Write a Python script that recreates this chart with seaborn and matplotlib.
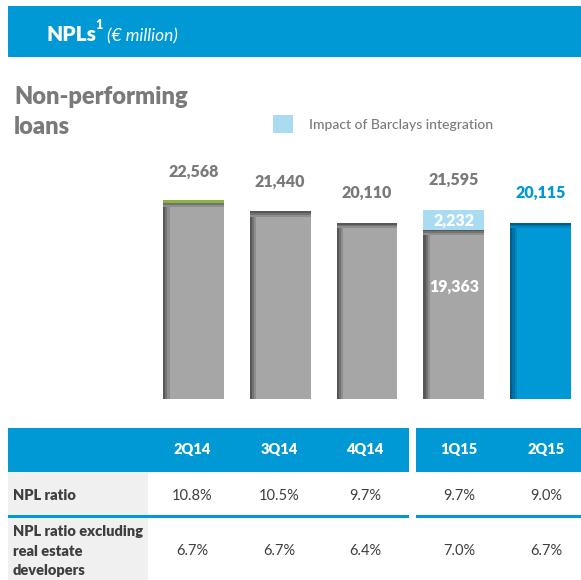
import matplotlib
matplotlib.use("Agg")
import matplotlib.pyplot as plt
from matplotlib.patches import Rectangle, Patch
import seaborn as sns
import pandas as pd

# ---------------- data ----------------
quarters = ["2Q14", "3Q14", "4Q14", "1Q15", "2Q15"]
npl_base = [22568, 21440, 20110, 19363, 20115]
barclays_impact = [0, 0, 0, 2232, 0]
npl_total = [22568, 21440, 20110, 21595, 20115]
row_labels = ["NPL ratio", "NPL ratio excluding\nreal estate\ndevelopers"]
npl_ratio = ["10.8%", "10.5%", "9.7%", "9.7%", "9.0%"]
npl_ratio_ex_re = ["6.7%", "6.7%", "6.4%", "7.0%", "6.7%"]

# ---------------- style ----------------
W, H = 581, 580
sns.set_style("white")
plt.rcParams['font.family'] = ['Lato', 'DejaVu Sans']

BLUE = "#0099D6"
BLUE_DARK = "#005E8A"
GRAY = "#A6A6A6"
GRAY_DARK = "#575757"
LIGHT = "#A9DCF1"
GREEN = "#8DB33F"
TXT_GRAY = "#7A7A7A"
TXT_DARK = "#3F3F3F"
CELL_BG = "#F0F0F0"

fig = plt.figure(figsize=(W / 100, H / 100), dpi=100)


def fx(x):
    return x / W


def fy(y):
    return 1 - y / H


def frect(x0, y0, x1, y1, color):
    fig.add_artist(Rectangle((fx(x0), fy(y1)), (x1 - x0) / W, (y1 - y0) / H,
                             transform=fig.transFigure, color=color, lw=0, zorder=0))


# ---------------- header band ----------------
frect(8, 6, 581, 57, BLUE)
fig.text(fx(46), fy(41), "NPLs", color="white", fontsize=15, fontweight="heavy",
         va="baseline", ha="left")
fig.text(fx(95.5), fy(29), "1", color="white", fontsize=9, fontweight="heavy",
         va="baseline", ha="left")
fig.text(fx(107), fy(41), "(€ million)", color="white", fontsize=12.5, style="italic",
         va="baseline", ha="left")

# ---------------- section title ----------------
fig.text(fx(14), fy(97), "Non-performing", color=TXT_GRAY, fontsize=17,
         fontweight="heavy", va="center", ha="left")
fig.text(fx(14), fy(127), "loans", color=TXT_GRAY, fontsize=17,
         fontweight="heavy", va="center", ha="left")

# ---------------- bar chart ----------------
px_per_cat = 86.75
px_per_unit = 0.00875
ax = fig.add_axes([fx(150), fy(399), 431 / W, 239 / H])
df = pd.DataFrame({"quarter": quarters, "npl": npl_base})
sns.barplot(data=df, x="quarter", y="npl", hue="quarter",
            palette=[GRAY, GRAY, GRAY, GRAY, BLUE], width=0.7, saturation=1,
            legend=False, ax=ax, zorder=2)
base_patches = list(ax.patches)[:5]

impact = ax.bar(range(len(quarters)), barclays_impact, bottom=npl_base,
                width=0.7, color=LIGHT, lw=0, zorder=2)

dx = 1 / px_per_cat
dy = 1 / px_per_unit
for i, p in enumerate(base_patches):
    x, w, h = p.get_x(), p.get_width(), p.get_height()
    p.set_linewidth(0)
    dark = BLUE_DARK if i == 4 else GRAY_DARK
    mids = ["#0072A6", "#0088C2"] if i == 4 else ["#727272", "#8E8E8E"]
    shades = [dark] + mids
    # left gradient strip
    for k, c in enumerate(shades[::-1]):
        wk = (3 - k) * 2.2 * dx
        ax.add_patch(Rectangle((x, 0), wk, h, color=c, lw=0, zorder=3))
    # top gradient strip
    for k, c in enumerate(shades[::-1]):
        hk = (3 - k) * 1.7 * dy
        ax.add_patch(Rectangle((x, h - hk), w, hk, color=c, lw=0, zorder=3))
    if i == 0:
        ax.add_patch(Rectangle((x, h - 1 * dy), w, 2.5 * dy, color=GREEN, lw=0,
                               zorder=4))

ax.set_xlim(-0.5, (581 - 193.5) / px_per_cat)
ax.set_ylim(0, 239 / px_per_unit)
ax.axis("off")

for i, tot in enumerate(npl_total):
    ax.annotate(f"{tot:,}", (i, tot), xytext=(0, 30 * 0.72), textcoords="offset points",
                ha="center", va="center", fontsize=11.5, fontweight="heavy",
                color=BLUE if i == 4 else TXT_GRAY, annotation_clip=False)

for i, v in enumerate(barclays_impact):
    if v:
        ax.annotate(f"{v:,}", (i, npl_base[i] + v / 2), xytext=(0, -0.7),
                    textcoords="offset points", ha="center", va="center",
                    fontsize=11.5, fontweight="heavy", color="white")
        ax.annotate(f"{npl_base[i]:,}", (i, npl_base[i]), xytext=(0, -57 * 0.72),
                    textcoords="offset points", ha="center", va="center",
                    fontsize=11.5, fontweight="heavy", color="white")

ax.legend(handles=[Patch(color=LIGHT, lw=0)], labels=["Impact of Barclays integration"],
          loc="center left", bbox_to_anchor=(fx(273), fy(124)),
          bbox_transform=fig.transFigure, frameon=False, borderpad=0,
          borderaxespad=0, fontsize=10, labelcolor=TXT_GRAY,
          prop={"size": 10, "weight": "medium"},
          handlelength=20 / 13.9, handleheight=22 / 13.9, handletextpad=16 / 13.9)

# ---------------- table ----------------
col_x = [192, 279, 365, 459, 546]
frect(8, 428, 409, 472, BLUE)
frect(416, 428, 581, 472, BLUE)
for q, cx in zip(quarters, col_x):
    fig.text(fx(cx), fy(450), q, color="white", fontsize=10.5, fontweight="heavy",
             ha="center", va="center")

# row label cells
frect(8, 472, 148, 515, CELL_BG)
frect(8, 517, 148, 580, CELL_BG)
# separator line
frect(8, 515, 409, 517.5, BLUE)
frect(416, 515, 581, 517.5, BLUE)

fig.text(fx(13), fy(496), row_labels[0], color=TXT_DARK, fontsize=10.5,
         fontweight="heavy", ha="left", va="center")
fig.text(fx(13), fy(551), row_labels[1], color=TXT_DARK, fontsize=10.5,
         fontweight="heavy", ha="left", va="center", linespacing=1.62)

for vals, ry in ((npl_ratio, 496), (npl_ratio_ex_re, 551)):
    for v, cx in zip(vals, col_x):
        fig.text(fx(cx), fy(ry), v, color=TXT_DARK, fontsize=10.5,
                 ha="center", va="center")

fig.savefig("out.png", dpi=100)
